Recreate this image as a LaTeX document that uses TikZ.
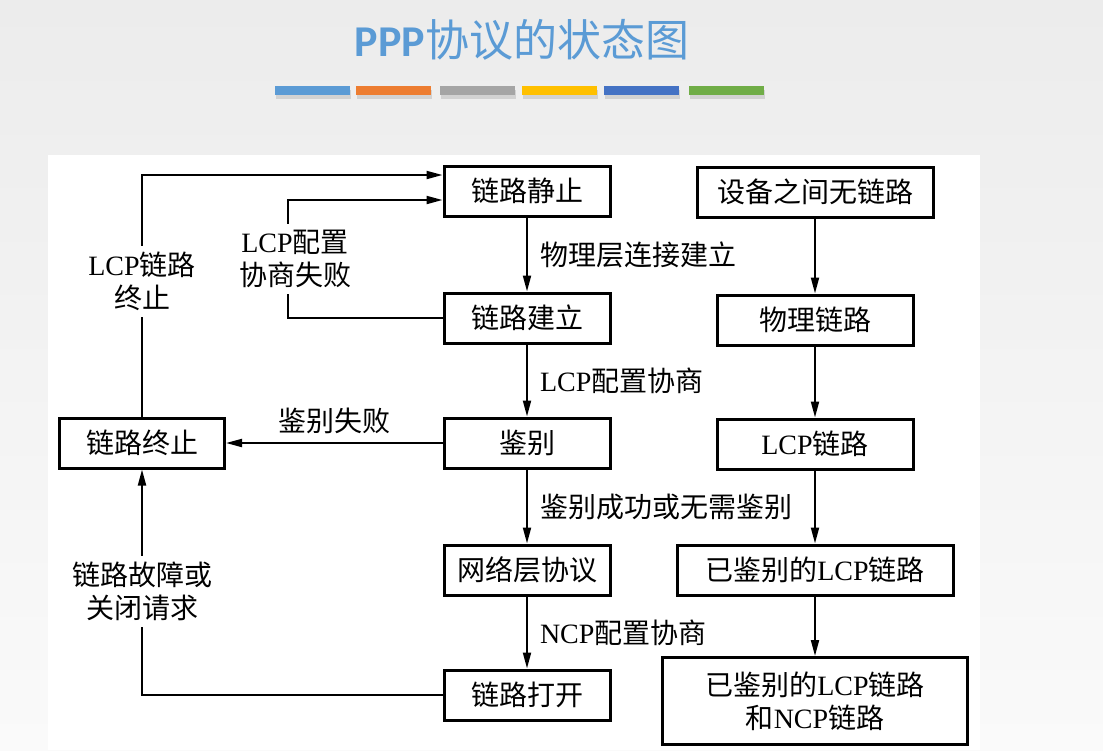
\documentclass[tikz,border=0pt]{standalone}
\usepackage{fontspec}
\setmainfont{Noto Sans CJK SC}
\newfontfamily\lat{Liberation Serif}
\newfontfamily\carlito{Carlito}
\usetikzlibrary{arrows.meta,shadows}
\definecolor{titleblue}{HTML}{5B9BD5}
\definecolor{barA}{HTML}{5B9BD5}
\definecolor{barB}{HTML}{ED7D31}
\definecolor{barC}{HTML}{A5A5A5}
\definecolor{barD}{HTML}{FFC000}
\definecolor{barE}{HTML}{4472C4}
\definecolor{barF}{HTML}{70AD47}
\definecolor{bgtop}{HTML}{ECECEC}
\definecolor{bgbot}{HTML}{FAFAFA}
\begin{document}
\begin{tikzpicture}[x=0.5pt,y=-0.5pt,
  state/.style={draw,line width=1.5pt,minimum height=25pt,inner sep=0pt,
    font=\fontsize{14pt}{16.5pt}\selectfont,align=center},
  arr/.style={line width=1pt,line join=miter,-{Triangle[length=8pt,width=4pt]}},
  lbl/.style={font=\fontsize{14pt}{16.5pt}\selectfont,align=center,inner sep=3pt}]
	\useasboundingbox (0,0) rectangle (1103,750);
	\shade[top color=bgtop,bottom color=bgbot] (0,0) rectangle (1103,750);
	\fill[white] (48,155) rectangle (980,750);
	\node[font=\fontsize{22pt}{25pt}\selectfont,text=titleblue] (title) at (522,40) {{\carlito\bfseries PPP}协议的状态图};
	\foreach \bx/\bc in {275/barA,356/barB,440/barC,522/barD,604/barE,689/barF}
		\fill[\bc,drop shadow={opacity=0.25,shadow xshift=0.5pt,shadow yshift=-2pt}] (\bx,86) rectangle ++(75,9);
	\node[state,minimum width=83pt] (idle) at (527,191) {链路静止};
	\node[state,minimum width=118pt] (nolink) at (815,192) {设备之间无链路};
	\node[state,minimum width=83pt] (est) at (527,318) {链路建立};
	\node[state,minimum width=98pt] (phy) at (815,320) {物理链路};
	\node[state,minimum width=83pt] (auth) at (527,443) {鉴别};
	\node[state,minimum width=82.5pt] (term) at (142,443) {链路终止};
	\node[state,minimum width=98pt] (lcp) at (815,444) {{\lat LCP}链路};
	\node[state,minimum width=83pt] (net) at (527,570) {网络层协议};
	\node[state,minimum width=138pt] (alcp) at (815,570) {已鉴别的{\lat LCP}链路};
	\node[state,minimum width=83pt] (open) at (527,695) {链路打开};
	\node[state,minimum width=152.5pt,minimum height=43.5pt] (ancp) at (815,701) {已鉴别的{\lat LCP}链路\\和{\lat NCP}链路};
	\coordinate (fail) at (288,259);
	\draw[arr] (idle) -- node[lbl,right=3pt]{物理层连接建立} (est);
	\draw[arr] (est) -- node[lbl,right=3pt]{{\lat LCP}配置协商} (auth);
	\draw[arr] (auth) -- node[lbl,right=3pt]{鉴别成功或无需鉴别} (net);
	\draw[arr] (net) -- node[lbl,right=3pt]{{\lat NCP}配置协商} (open);
	\draw[arr] (auth) -- node[lbl,above=1pt]{鉴别失败} (term);
	\draw[arr] (term.north) |- node[lbl,pos=0.28,fill=white]{{\lat LCP}链路\\终止} ([yshift=8pt]idle.west);
	\draw[arr] (est.west) -| (fail) node[lbl,fill=white,xshift=3.5pt]{{\lat LCP}配置\\协商失败} |- ([yshift=-4.5pt]idle.west);
	\draw[arr] (open.west) -| node[lbl,pos=0.73,fill=white]{链路故障或\\关闭请求} (term.south);
	\draw[arr] (nolink) -- (phy);
	\draw[arr] (phy) -- (lcp);
	\draw[arr] (lcp) -- (alcp);
	\draw[arr] (alcp) -- (ancp);
\end{tikzpicture}
\end{document}
